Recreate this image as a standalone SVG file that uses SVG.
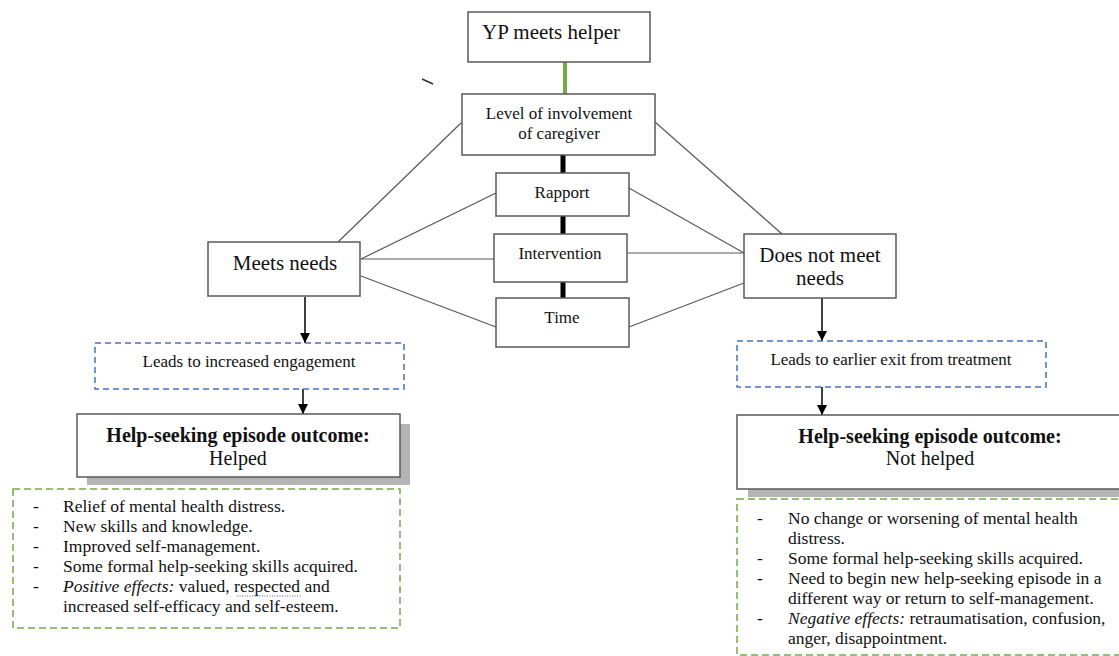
<svg xmlns="http://www.w3.org/2000/svg" width="1119" height="656" viewBox="0 0 1119 656">
  <defs>
    <marker id="arrow" viewBox="0 0 10 10" refX="10" refY="5" markerWidth="10" markerHeight="10" markerUnits="userSpaceOnUse" orient="auto">
      <path d="M0,0 L10,5 L0,10 Z" fill="#000"/>
    </marker>
    <style>
      text { font-family: "Liberation Serif", "Times New Roman", serif; fill: #111; }
      .box { fill: #fff; stroke: #595959; stroke-width: 1.5; }
      .shadow { fill: #b4b4b4; }
      .blue { fill: #fff; stroke: #4472c4; stroke-width: 1.5; stroke-dasharray: 6 4; }
      .green { fill: #fff; stroke: #70ad47; stroke-width: 1.5; stroke-dasharray: 7 4; }
      .link { stroke: #595959; stroke-width: 1.2; fill: none; }
      .stem { stroke: #000; stroke-width: 5; }
      .arrow { stroke: #000; stroke-width: 1.5; marker-end: url(#arrow); }
      .big { font-size: 21px; }
      .mid { font-size: 17px; }
      .out { font-size: 20px; }
      .list { font-size: 17.5px; }
    </style>
  </defs>

  <rect width="1119" height="656" fill="#fff"/>

  <!-- connectors -->
  <g id="connectors">
    <line x1="565" y1="62" x2="565" y2="94" stroke="#70ad47" stroke-width="4"/>
    <line class="stem" x1="563" y1="155" x2="563" y2="173"/>
    <line class="stem" x1="563" y1="216" x2="563" y2="234"/>
    <line class="stem" x1="563" y1="282" x2="563" y2="298"/>
    <!-- to "Meets needs" -->
    <line class="link" x1="461" y1="123" x2="338" y2="242"/>
    <line class="link" x1="496" y1="193" x2="361" y2="259"/>
    <line class="link" x1="361" y1="259" x2="495" y2="259"/>
    <line class="link" x1="361" y1="276" x2="496" y2="327"/>
    <!-- to "Does not meet needs" -->
    <line class="link" x1="655" y1="122" x2="782" y2="234"/>
    <line class="link" x1="629" y1="188" x2="744" y2="253"/>
    <line class="link" x1="627" y1="253" x2="744" y2="253"/>
    <line class="link" x1="629" y1="327" x2="744" y2="283"/>
    <!-- downward arrows -->
    <line class="arrow" x1="305" y1="297" x2="305" y2="343"/>
    <line class="arrow" x1="303" y1="389" x2="303" y2="414"/>
    <line class="arrow" x1="822" y1="298" x2="822" y2="341"/>
    <line class="arrow" x1="822" y1="387" x2="822" y2="415"/>
    <!-- stray stroke -->
    <line x1="422" y1="79" x2="433" y2="84" stroke="#333" stroke-width="1.5"/>
  </g>

  <g id="yp-meets-helper">
    <rect class="box" x="468" y="12" width="182" height="50"/>
    <text class="big" x="551" y="39" text-anchor="middle">YP meets helper</text>
  </g>

  <g id="caregiver">
    <rect class="box" x="462" y="94" width="193" height="61"/>
    <text class="mid" x="559" y="119" text-anchor="middle">Level of involvement</text>
    <text class="mid" x="559" y="139" text-anchor="middle">of caregiver</text>
  </g>

  <g id="rapport">
    <rect class="box" x="496" y="173" width="133" height="43"/>
    <text class="mid" x="562" y="198" text-anchor="middle">Rapport</text>
  </g>

  <g id="intervention">
    <rect class="box" x="494" y="234" width="133" height="48"/>
    <text class="mid" x="560" y="259" text-anchor="middle">Intervention</text>
  </g>

  <g id="time">
    <rect class="box" x="496" y="298" width="133" height="49"/>
    <text class="mid" x="562" y="323" text-anchor="middle">Time</text>
  </g>

  <g id="meets-needs">
    <rect class="box" x="208" y="242" width="152" height="54"/>
    <text class="big" x="285" y="270" text-anchor="middle">Meets needs</text>
  </g>

  <g id="does-not-meet-needs">
    <rect class="box" x="744" y="234" width="152" height="64"/>
    <text class="big" x="820" y="262" text-anchor="middle">Does not meet</text>
    <text class="big" x="820" y="285" text-anchor="middle">needs</text>
  </g>

  <g id="increased-engagement">
    <rect class="blue" x="95" y="343" width="309" height="46"/>
    <text class="mid" x="249" y="367" text-anchor="middle">Leads to increased engagement</text>
  </g>

  <g id="earlier-exit">
    <rect class="blue" x="737" y="341" width="309" height="46"/>
    <text class="mid" x="891" y="365" text-anchor="middle">Leads to earlier exit from treatment</text>
  </g>

  <g id="outcome-helped">
    <rect class="shadow" x="87" y="424" width="323" height="61"/>
    <rect class="box" x="77" y="414" width="323" height="63"/>
    <text class="out" x="238" y="442" text-anchor="middle" font-weight="bold">Help-seeking episode outcome:</text>
    <text class="out" x="238" y="465" text-anchor="middle">Helped</text>
  </g>

  <g id="outcome-not-helped">
    <rect class="shadow" x="748" y="425" width="380" height="72"/>
    <rect class="box" x="737" y="415" width="390" height="74"/>
    <text class="out" x="930" y="443" text-anchor="middle" font-weight="bold">Help-seeking episode outcome:</text>
    <text class="out" x="930" y="465" text-anchor="middle">Not helped</text>
  </g>

  <g id="helped-effects">
    <rect class="green" x="13" y="489" width="387" height="139"/>
    <g class="list">
      <text x="33" y="512">-</text><text x="63" y="512">Relief of mental health distress.</text>
      <text x="33" y="532">-</text><text x="63" y="532">New skills and knowledge.</text>
      <text x="33" y="552">-</text><text x="63" y="552">Improved self-management.</text>
      <text x="33" y="572">-</text><text x="63" y="572">Some formal help-seeking skills acquired.</text>
      <text x="33" y="592">-</text><text x="63" y="592"><tspan font-style="italic">Positive effects:</tspan> valued, respected and</text>
      <text x="63" y="612">increased self-efficacy and self-esteem.</text>
    </g>
    <line x1="237" y1="596" x2="302" y2="596" stroke="#5a5adc" stroke-width="1" stroke-dasharray="1 1.5"/>
  </g>

  <g id="not-helped-effects">
    <rect class="green" x="737" y="499" width="400" height="156"/>
    <g class="list">
      <text x="757" y="524">-</text><text x="788" y="524">No change or worsening of mental health</text>
      <text x="788" y="544">distress.</text>
      <text x="757" y="564">-</text><text x="788" y="564">Some formal help-seeking skills acquired.</text>
      <text x="757" y="584">-</text><text x="788" y="584">Need to begin new help-seeking episode in a</text>
      <text x="788" y="604">different way or return to self-management.</text>
      <text x="757" y="624">-</text><text x="788" y="624"><tspan font-style="italic">Negative effects:</tspan> retraumatisation, confusion,</text>
      <text x="788" y="644">anger, disappointment.</text>
    </g>
  </g>
</svg>
